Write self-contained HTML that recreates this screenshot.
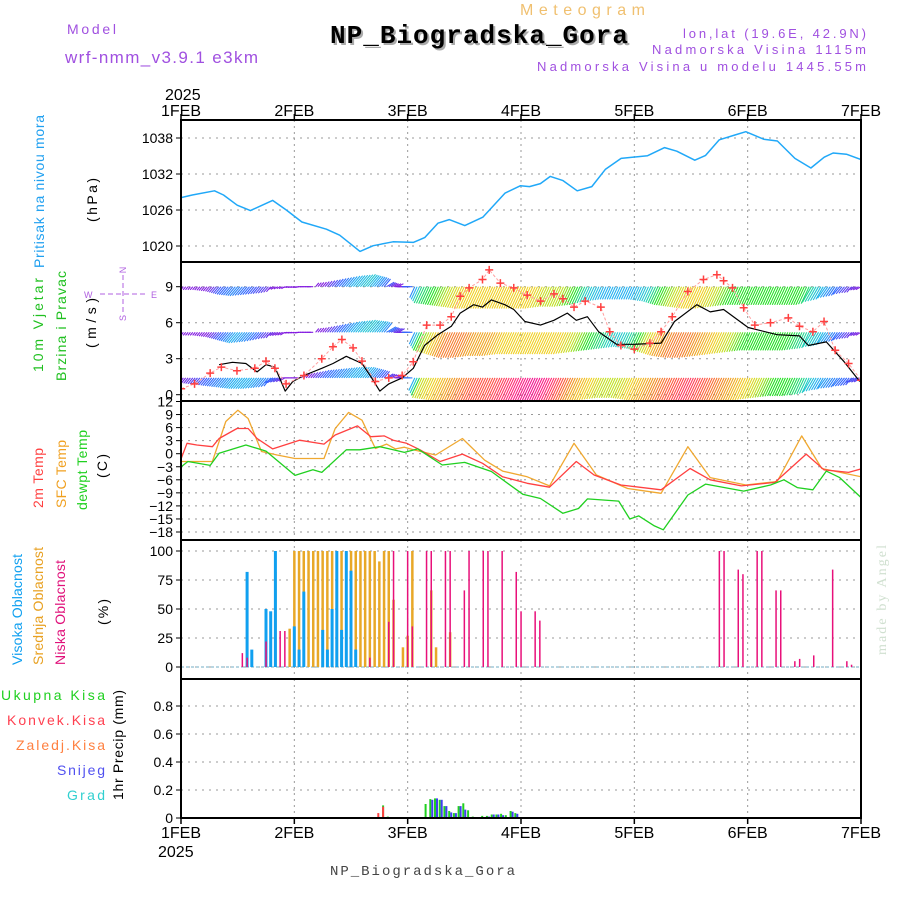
<!DOCTYPE html>
<html><head><meta charset="utf-8"><style>
body{margin:0;background:#fff;}
svg{display:block;font-family:"Liberation Sans",sans-serif;}
</style></head><body>
<svg id="c" width="900" height="900" viewBox="0 0 900 900" xmlns="http://www.w3.org/2000/svg">
<text x="520" y="15" font-size="16" fill="#f0c070" textLength="125">Meteogram</text>
<text x="330" y="43" font-size="26" font-weight="bold" font-family="Liberation Mono,monospace" fill="#aaa" textLength="298" transform="translate(2,2)">NP_Biogradska_Gora</text>
<text x="330" y="43" font-size="26" font-weight="bold" font-family="Liberation Mono,monospace" fill="#000" textLength="298">NP_Biogradska_Gora</text>
<text x="67" y="34" font-size="14" fill="#a050e0" textLength="49">Model</text>
<text x="65" y="63" font-size="17" fill="#a050e0" textLength="193">wrf-nmm_v3.9.1 e3km</text>
<text x="866" y="38" font-size="13" fill="#a050e0" text-anchor="end" textLength="183">lon,lat (19.6E, 42.9N)</text>
<text x="866" y="54" font-size="13" fill="#a050e0" text-anchor="end" textLength="214">Nadmorska Visina 1115m</text>
<text x="866" y="71" font-size="13" fill="#a050e0" text-anchor="end" textLength="329">Nadmorska Visina u modelu 1445.55m</text>
<text x="165" y="100" font-size="16">2025</text>
<text x="158" y="857" font-size="16">2025</text>
<text x="330" y="875" font-size="14" font-family="Liberation Mono,monospace" fill="#444" textLength="185">NP_Biogradska_Gora</text>
<text transform="translate(886,655) rotate(-90)" font-size="14" font-family="Liberation Serif,serif" fill="#d0e0d0" textLength="110">made by Angel</text>
<g font-size="14">
<text transform="translate(44,268) rotate(-90)" fill="#20a0f0" textLength="153">Pritisak na nivou mora</text>
<text transform="translate(97,222) rotate(-90)" textLength="44">(hPa)</text>
<text transform="translate(43,372) rotate(-90)" fill="#20c020" textLength="94">10m Vjetar</text>
<text transform="translate(66,381) rotate(-90)" fill="#20c020" textLength="110">Brzina i Pravac</text>
<text transform="translate(96,348) rotate(-90)" textLength="50">(m/s)</text>
<text transform="translate(43,508) rotate(-90)" fill="#ff4040" textLength="60">2m Temp</text>
<text transform="translate(66,508) rotate(-90)" fill="#f0a020" textLength="68">SFC Temp</text>
<text transform="translate(87,510) rotate(-90)" fill="#20d020" textLength="80">dewpt Temp</text>
<text transform="translate(107,478) rotate(-90)" textLength="24">(C)</text>
<text transform="translate(22,665) rotate(-90)" fill="#10a0f0" textLength="111">Visoka Oblacnost</text>
<text transform="translate(43,665) rotate(-90)" fill="#e8a020" textLength="118">Srednja Oblacnost</text>
<text transform="translate(65,665) rotate(-90)" fill="#e0107a" textLength="105">Niska Oblacnost</text>
<text transform="translate(108,625) rotate(-90)" textLength="26">(%)</text>
<text transform="translate(123,800) rotate(-90)" textLength="110">1hr Precip (mm)</text>
<text x="105" y="700" text-anchor="end" fill="#20d020" textLength="104">Ukupna Kisa</text>
<text x="105" y="725" text-anchor="end" fill="#ff4050" textLength="98">Konvek.Kisa</text>
<text x="105" y="750" text-anchor="end" fill="#ff8040" textLength="89">Zaledj.Kisa</text>
<text x="105" y="775" text-anchor="end" fill="#5050f0" textLength="48">Snijeg</text>
<text x="105" y="800" text-anchor="end" fill="#30d0d0" textLength="38">Grad</text>
</g>
<g fill="#b060e0" stroke="#b060e0" font-size="9">
<text x="84" y="298" stroke="none">W</text><text x="151" y="298" stroke="none">E</text>
<text transform="translate(126,270) rotate(-90)" stroke="none" text-anchor="middle">N</text>
<text transform="translate(126,318) rotate(-90)" stroke="none" text-anchor="middle">S</text>
<line x1="100" y1="294" x2="145" y2="294" stroke-dasharray="5,3"/>
<line x1="123" y1="275" x2="123" y2="313" stroke-dasharray="5,3"/>
</g>
<g id="plot"></g>
</svg>
<script>
const NS='http://www.w3.org/2000/svg';
const plot=document.getElementById('plot');
const X0=181,X1=861;
function xs(h){return X0+h*(X1-X0)/144;}
function el(tag,attrs,parent){const e=document.createElementNS(NS,tag);for(const k in attrs)e.setAttribute(k,attrs[k]);(parent||plot).appendChild(e);return e;}

// ---- data ----
const dayLabels=['1FEB','2FEB','3FEB','4FEB','5FEB','6FEB','7FEB'];
const pressureTicks=[1020,1026,1032,1038];
const windTicks=[0,3,6,9];
const tempTicks=[12,9,6,3,0,-3,-6,-9,-12,-15,-18];
const cloudTicks=[0,25,50,75,100];
const precipTicks=[0,0.2,0.4,0.6,0.8];

const pressHours=[0,2.4,7.1,9,11.9,14.7,19.4,22.3,25.6,30.8,33.6,37.9,40.7,44.9,49.2,51.6,54.4,56.8,60.1,63.9,68.6,71.9,73.8,76.1,78.2,80.9,83.9,87,89.9,93.2,98.8,102.4,105,108.8,111.1,114,117.3,119.6,123.4,126.3,130,133.4,136.2,138.1,140.9,144];
const pressVals=[1028.05,1028.5,1029.2,1028.5,1026.8,1025.9,1027.6,1026,1024,1022.8,1021.8,1019.1,1020.05,1020.7,1020.6,1021.4,1023.8,1024.4,1023.4,1024.8,1028.8,1030.05,1029.9,1030.4,1031.6,1030.9,1029.2,1029.9,1032.8,1034.6,1035.05,1036.4,1035.8,1034.3,1035.1,1037.7,1038.5,1039.05,1037.8,1037.5,1034.6,1033,1034.8,1035.5,1035.3,1034.4];

const t2Hours=[0,2.5,7,14.2,16.2,22.4,29.5,34.4,38.1,43.3,49.2,52.2,59.4,62.5,66.7,70.8,73.2,77.9,82.7,93.3,102.8,112.3,127,141,144,153,174,196,209,224,236,250,258,264,278,285];
const t2Vals=[-1.1,2.4,2.0,1.6,3.5,5.8,5.8,3.5,1.1,3.1,2.2,4.3,6.4,3.9,4.1,3.1,2.4,0.9,-1.8,-0.1,-2.2,-5.3,-6.8,-7.7,-1.8,-4.9,-7.2,-8.3,-3.4,-6,-7.4,-6.6,-0.1,-3.7,-4.3,-3.5];
const sfcVals=[];
const sfcHours=[0,0,0,0,0,0,0,0,0,0,0,0,0,0,0,0,0,0,0,0,0,0,0,0,0,0,0,0,0,0,0,0,0,0,0];
const sfcZ=[25,40,95,125,152,175,205,240,280,345,370,400,430,460,485,505,525,545,595,655,705,745,800,850,905,955,1025,1100,1160,1210,1290,1360,1415,1460,1548];
const sfcV=[-1.8,-1.8,-1.8,7.4,10,8.1,0.5,-0.3,-1.1,-1.1,5.8,9.5,7.7,1.2,2.2,1.1,1.5,0.9,-0.3,3.5,-1.5,-4,-5.3,-7.4,2.4,-4.9,-8,-9.1,1.6,-5.5,-7.2,-6.4,4.1,-3.4,-5.3];
const t2Z=[25,38,60,95,110,150,175,195,230,290,345,370,420,450,480,500,530,560,605,655,700,745,800,850,910,950,1010,1100,1165,1210,1280,1355,1425,1465,1520,1548];
const dewZ=[25,40,90,110,170,215,280,320,340,395,425,470,500,525,555,610,660,720,790,830,880,915,935,1005,1030,1050,1085,1105,1160,1200,1285,1345,1375,1405,1440,1470,1500,1548];
const dewV=[-3,-1.8,-2.7,0.1,2,0.6,-5,-3.7,-4.3,0.9,0.9,1.6,0.9,0.3,1.1,-2.6,-2,-4.1,-9.3,-10.3,-13.7,-12.6,-10.4,-10.9,-15,-14.3,-16.6,-17.5,-9.5,-7,-8.6,-7.2,-6,-7.8,-8.3,-4,-5.5,-10.1];

const windZ=[110,140,170,195,215,235,258,275,300,340,365,395,430,450,470,490,520,545,570,600,630,650,680,700,720,750,770,795,830,860,890,910,935,960,1000,1040,1100,1130,1180,1210,1240,1295,1360,1410,1430,1470,1510,1545];
const windV=[2.5,2.7,2.6,1.9,2.5,2.3,0.3,1.1,1.6,2.2,2.6,3.2,2.6,1.5,0.3,0.9,1.4,2.2,4.1,5,5.7,6.8,7.5,7.3,7.9,7.5,7.1,6.1,5.8,6.2,6.8,6.2,6.5,5.25,4.2,4.2,4.3,6.1,7.5,6.9,7.1,5.6,5,4.9,4.1,4.4,2.75,1.1];
const gustZ=[25,55,90,115,150,190,215,235,260,300,340,365,385,410,430,460,490,520,545,575,605,630,650,670,700,715,740,770,800,830,860,880,905,930,965,985,1010,1040,1075,1100,1125,1160,1195,1225,1240,1260,1285,1310,1345,1385,1410,1440,1465,1490,1520,1548];
const gustV=[0.5,0.9,1.8,2.3,2.0,2.2,2.8,2.2,0.9,1.6,3.0,4,4.6,3.9,2.8,1.1,1.4,1.6,2.75,5.8,5.8,6.5,8.2,8.9,9.6,10.4,9.3,8.9,8.3,7.8,8.4,8.0,7.3,7.8,7.3,5.25,4.1,3.8,4.3,5.25,6.5,8.6,9.6,10,9.5,8.9,7.25,5.8,6,6.4,5.7,5.25,6.1,3.7,2.6,1.2];

// barb rows: 3-hourly (0..144)
const barbLevels=[9,5.2,1.4];
const row1Speed=[2,2,3,5,6,5,4,2,2,2,3,5,7,8,6,3,3, 9,10,11,12,12,12,12,12,12,11,11,10,8,7,7,7,8,10,11,12,12,11,10,10,10,10,10,10,8,6,4,3];
const row2Speed=[2,2,3,5,7,6,4,3,2,2,3,5,7,8,7,4,3, 10,12,14,14,13,13,12,12,12,12,12,11,10,9,8,9,11,13,14,14,13,12,11,10,10,10,10,9,8,6,4,3];
const row3Speed=[3,4,5,6,7,7,6,4,2,3,5,6,7,7,5,3,3, 11,12,13,14,15,15,16,17,18,17,15,13,12,11,11,12,13,14,15,16,15,14,13,12,11,10,10,9,7,6,5,4];
const row1Dir=[40,40,40,40,40,40,40,60,80,90,220,220,220,220,220,240,90, 25,25,25,25,25,25,25,25,25,25,25,25,25,25,25,25,25,25,25,25,25,25,25,25,25,25,25,25,30,35,40,60];
const row2Dir=row1Dir.slice();
const row3Dir=[40,40,40,40,40,40,40,60,90,220,220,220,220,220,220,240,90, 25,25,25,25,25,25,25,25,25,25,25,25,25,25,25,25,25,25,25,25,25,25,25,25,25,25,25,25,30,35,40,60];

const highHours=[14,15,18,19,20,24,25,26,30,31,32,33,34,35,36,37];
const highVals=[82,15,50,48,100,35,15,65,32,15,50,100,32,100,83,15];
const midHours=[18,19,20,23,24,25,26,27,28,29,30,31,32,33,34,35,36,37,38,39,40,41,42,43,44,45,47,48,49,53,54,57];
const midVals=[31,33,82,33,100,100,100,100,100,100,100,100,100,100,100,100,100,100,100,100,100,100,91,100,100,58,17,27,100,66,17,30];
const lowHours=[13,14,18,21,22,40,44,45,48,49,52,53,56,57,60,61,64,65,68,71,72,75,76,114,115,118,119,122,123,126,127,130,131,134,138,141,142];
const lowVals=[12,8,22,31,31,8,39,100,100,35,100,100,100,100,66,100,100,100,100,82,48,48,40,100,100,84,80,100,100,66,66,5,7,10,84,5,2];

const rainHours=[43,44,52,53,54,55,56,57,58,59,60,61,62,64,65,66,67,68,69,70,71];
const rainVals=[0.09,0.01,0.10,0.135,0.14,0.13,0.085,0.05,0.035,0.085,0.105,0.055,0.01,0.015,0.015,0.025,0.025,0.03,0.02,0.05,0.035];
const convHours=[42,43];
const convVals=[0.035,0.08];
const snowHours=[53,54,55,56,57,58,59,60,65,66,67,68,70,71];
const snowVals=[0.13,0.14,0.13,0.085,0.04,0.035,0.085,0.06,0.01,0.025,0.025,0.02,0.045,0.03];

// ---- helpers ----
function zh(z,scale){return (z/scale-11)*24/113.33;}
const t2H=t2Z.map(z=>zh(z,2.24)), sfcH=sfcZ.map(z=>zh(z,2.24)), dewH=dewZ.map(z=>zh(z,2.24));
const windH=windZ.map(z=>zh(z,2.24)), gustH=gustZ.map(z=>zh(z,2.24));

const panels=[
 {name:'pressure',top:120,bot:262,y:v=>246-(v-1020)*6,ticks:pressureTicks,fmt:v=>v},
 {name:'wind',top:262,bot:401,y:v=>394.7-v*12,ticks:windTicks,fmt:v=>v},
 {name:'temp',top:401,bot:540,y:v=>453.7-v*4.35,ticks:tempTicks,fmt:v=>v<0?'\u2212'+(-v):v},
 {name:'cloud',top:540,bot:679,y:v=>667-v*1.16,ticks:cloudTicks,fmt:v=>v},
 {name:'precip',top:679,bot:818,y:v=>818-v*140,ticks:precipTicks,fmt:v=>v===0?'0':v.toFixed(1)}
];
panels.forEach((p,i)=>{
 el('clipPath',{id:'clip'+i}).appendChild(Object.assign(document.createElementNS(NS,'rect'),{})).setAttribute('x',X0);
 const r=document.querySelector('#clip'+i+' rect');r.setAttribute('y',p.top);r.setAttribute('width',X1-X0);r.setAttribute('height',p.bot-p.top);
 const g=el('g',{});
 
 
 for(let d=1;d<6;d++){const l=el('line',{x1:xs(d*24),x2:xs(d*24),y1:p.top,y2:p.bot,stroke:'#999','stroke-dasharray':'2,4','stroke-width':1},g);}
 p.ticks.forEach(v=>{
  const y=p.y(v);
  if(y>p.top+2&&y<p.bot-2)el('line',{x1:X0,x2:X1,y1:y,y2:y,stroke:'#999','stroke-dasharray':'2,5','stroke-width':1},g);
  el('line',{x1:X0-5,x2:X0,y1:y,y2:y,stroke:'#000'},g);
  const t=el('text',{x:X0-8,y:y+5,'font-size':14,'text-anchor':'end'},g);
  
  
  t.textContent=p.fmt(v);
 });
 p.g=el('g',{'clip-path':'url(#clip'+i+')'});
 
 
});
// day ticks
dayLabels.forEach((lab,d)=>{
 const x=xs(d*24);
 [[120,-6,116],[818,6,838]].forEach(([y,dy,ty])=>{
  el('line',{x1:x,x2:x,y1:y,y2:y+dy,stroke:'#000','stroke-width':1.5});
  const t=el('text',{x:x,y:ty,'font-size':16,'text-anchor':'middle'});
  
  
  t.textContent=lab;
 });
});

function line(p,H,V,color,w){
 const pts=H.map((h,i)=>xs(h).toFixed(1)+','+p.y(V[i]).toFixed(1)).join(' ');
 const pl=el('polyline',{points:pts,fill:'none',stroke:color,'stroke-width':w||1.3,'stroke-linejoin':'round'},p.g);
 return pl;
}
let e;
e=line(panels[0],pressHours,pressVals,'#20a8f8',1.5);



// wind barbs
const stops=[[0,[128,0,224]],[3,[128,32,224]],[5,[48,96,255]],[7,[32,176,240]],[8.5,[32,208,192]],[10,[32,224,32]],[11,[192,224,32]],[12,[240,208,32]],[13.5,[240,144,32]],[15,[255,80,64]],[17,[255,32,128]],[19,[224,0,160]]];
function col(s){for(let i=1;i<stops.length;i++){if(s<=stops[i][0]){const a=stops[i-1],b=stops[i],f=(s-a[0])/(b[0]-a[0]);return 'rgb('+a[1].map((c,k)=>Math.round(c+(b[1][k]-c)*f)).join(',')+')';}}return 'rgb(224,0,160)';}
function interp(arr,t){const i=Math.floor(t/3),f=t/3-i;if(i>=arr.length-1)return arr[arr.length-1];return arr[i]+(arr[i+1]-arr[i])*f;}
function interpDir(arr,t){const i=Math.floor(t/3),f=t/3-i;if(i>=arr.length-1)return arr[arr.length-1];return f<0.5?arr[i]:arr[i+1];}
const wp=panels[1];
[[row1Speed,row1Dir],[row2Speed,row2Dir],[row3Speed,row3Dir]].forEach(([S,D],r)=>{
 const g=el('g',{},wp.g);
 
 
 const yb=wp.y(barbLevels[r]);
 for(let t=0;t<=144;t+=0.5){
  const s=interp(S,t),d=interpDir(D,t)*Math.PI/180,L=s*2;
  const x=xs(t),dx=-Math.sin(d)*L,dy=Math.cos(d)*L;
  el('line',{x1:x.toFixed(1),y1:yb.toFixed(1),x2:(x+dx).toFixed(1),y2:(yb+dy).toFixed(1),stroke:col(s),'stroke-width':1.1},g);
 }
});
e=line(wp,windH,windV,'#000',1.2);


e=line(wp,gustH,gustV,'#ffa0a0',1);
e.setAttribute('stroke-dasharray','3,2');


gustH.forEach((h,i)=>{const x=xs(h),y=wp.y(gustV[i]);
 const c=el('path',{d:`M${x-4},${y}h8M${x},${y-4}v8`,stroke:'#ff4040','stroke-width':1.5},wp.g);
 
 
});

// temps
const tp=panels[2];
e=line(tp,sfcH,sfcV,'#f0a830');
e=line(tp,t2H,t2Vals,'#ff4040');
e=line(tp,dewH,dewV,'#20d020');

// clouds
const cp=panels[3];
el('line',{x1:X0,x2:X1,y1:cp.y(0),y2:cp.y(0),stroke:'#a0c8d8','stroke-width':1.5,'stroke-dasharray':'3,2'},cp.g);
function bars(p,H,V,color,w,off,name){H.forEach((h,i)=>{const x=xs(h)+off,y=p.y(V[i]);const b=el('rect',{x:(x-w/2).toFixed(1),y:y.toFixed(1),width:w,height:(p.y(0)-y).toFixed(1),fill:color},p.g);});}
bars(cp,midHours,midVals,'#e8a828',2.5,0,'mid-cloud-bar');
bars(cp,highHours,highVals,'#10a0f0',3,0,'high-cloud-bar');
bars(cp,lowHours,lowVals,'#e8107a',1.5,0,'low-cloud-bar');

// precip
const pp=panels[4];
bars(pp,rainHours,rainVals,'#20d020',2,-1,'total-rain-bar');
bars(pp,snowHours,snowVals,'#4040f0',2,1,'snow-bar');
bars(pp,convHours,convVals,'#ff4040',2,-1,'convective-rain-bar');

// borders
panels.forEach(p=>{const b=el('rect',{x:X0,y:p.top,width:X1-X0,height:p.bot-p.top,fill:'none',stroke:'#000','stroke-width':2});});
</script>
</body></html>
